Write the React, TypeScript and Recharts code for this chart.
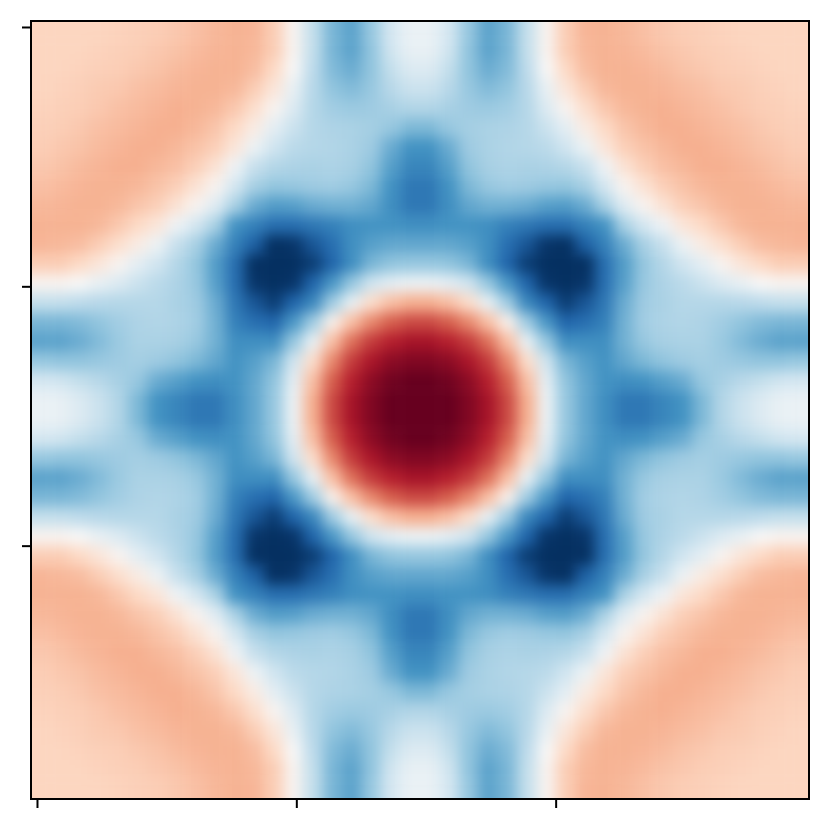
import React from "react";
import { ScatterChart, Scatter, XAxis, YAxis, ReferenceArea } from "recharts";

// Upper triangle of one quadrant of the (mirror-symmetric) field; row r starts at column r.
const upperRows: number[][] = [
  [.22,.22,.22,.22,.23,.24,.25,.27,.3,.33,.35,.34,.25,.03,-.24,-.46,-.54,-.38,-.18,-.07],
  [.22,.22,.23,.24,.25,.27,.29,.32,.34,.35,.33,.25,.03,-.24,-.46,-.54,-.4,-.2,-.08],
  [.23,.24,.25,.27,.29,.32,.34,.35,.35,.31,.2,0,-.26,-.44,-.5,-.4,-.24,-.14],
  [.26,.27,.3,.32,.34,.35,.35,.33,.25,.12,-.08,-.28,-.4,-.44,-.38,-.28,-.22],
  [.3,.32,.34,.36,.35,.33,.27,.17,.03,-.14,-.29,-.35,-.37,-.36,-.33,-.3],
  [.34,.36,.36,.33,.28,.2,.08,-.1,-.22,-.29,-.31,-.32,-.34,-.38,-.45],
  [.36,.33,.29,.24,.12,-.06,-.2,-.27,-.29,-.3,-.32,-.36,-.5,-.6],
  [.3,.24,.14,-.04,-.23,-.29,-.31,-.32,-.31,-.33,-.4,-.55,-.66],
  [.14,.03,-.18,-.33,-.39,-.38,-.36,-.35,-.38,-.45,-.6,-.72],
  [-.12,-.32,-.5,-.56,-.55,-.5,-.48,-.48,-.52,-.62,-.72],
  [-.6,-.68,-.76,-.76,-.72,-.68,-.62,-.6,-.6,-.62],
  [-.82,-1,-.98,-.86,-.76,-.62,-.55,-.52,-.52],
  [-1.03,-1.03,-.95,-.8,-.62,-.46,-.4,-.38],
  [-.98,-.8,-.58,-.38,-.2,-.1,-.06],
  [-.65,-.35,-.08,.18,.3,.36],
  [.05,.3,.48,.6,.66],
  [.55,.7,.78,.83],
  [.82,.9,.93],
  [.97,1.0],
  [1.05],
];

const xTicks = [0, 20, 40];
const yTicks = [0, 20, 40];
const domain: [number, number] = [-0.5, 59.5];
const stops = ["#053061","#2166ac","#4393c3","#92c5de","#d1e5f0","#f7f7f7","#fddbc7","#f4a582","#d6604d","#b2182b","#67001f"];

const QUARTER = 20;
const STEP = 1.5;
const PAD = 6;
const CELL_PX = 20;

const hex = (c: string) => [1, 3, 5].map((k) => parseInt(c.slice(k, k + 2), 16));
function colour(v: number) {
  const t = (Math.max(-1, Math.min(1, v)) + 1) * 5;
  const k = Math.min(9, Math.floor(t));
  const a = hex(stops[k]), b = hex(stops[k + 1]);
  const f = t - k;
  return `rgb(${a.map((p, n) => Math.round(p + (b[n] - p) * f)).join(",")})`;
}
function quarterValue(r: number, c: number) {
  const lo = Math.min(r, c), hi = Math.max(r, c);
  return upperRows[lo][hi - lo];
}
function fold(i: number) {
  const n = Math.max(0, Math.min(2 * QUARTER - 1, i));
  return n < QUARTER ? n : 2 * QUARTER - 1 - n;
}
const cells: { x: number; y: number; v: number }[] = [];
for (let r = -PAD; r < 2 * QUARTER + PAD; r++) {
  for (let c = -PAD; c < 2 * QUARTER + PAD; c++) {
    cells.push({ x: -0.5 + STEP * (c + 0.5), y: -0.5 + STEP * (r + 0.5), v: quarterValue(fold(r), fold(c)) });
  }
}

const Cell = (p: any) => (
  <rect x={p.cx - CELL_PX / 2} y={p.cy - CELL_PX / 2} width={CELL_PX} height={CELL_PX} fill={colour(p.payload.v)} />
);

const lineStyle = { stroke: "#000", strokeWidth: 2 };

export default function App() {
  return (
    <div style={{ position: "absolute", left: 0, top: 0, width: 830, height: 830 }}>
      <style>{`.heat { filter: blur(7px); }`}</style>
      <ScatterChart width={830} height={830} margin={{ top: 21, right: 21, bottom: 30, left: 30 }}>
        <Scatter data={cells} dataKey="v" className="heat" isAnimationActive={false} shape={Cell} zIndex={100} />
        <XAxis type="number" dataKey="x" domain={domain} allowDataOverflow ticks={xTicks} tickFormatter={() => ""} height={1} axisLine={lineStyle} tickLine={lineStyle} tickSize={9} interval={0} zIndex={900} />
        <YAxis type="number" dataKey="y" domain={domain} allowDataOverflow reversed ticks={yTicks} tickFormatter={() => ""} width={1} axisLine={lineStyle} tickLine={lineStyle} tickSize={9} interval={0} zIndex={900} />
        <ReferenceArea x1={domain[0]} x2={domain[1]} y1={domain[0]} y2={domain[1]} ifOverflow="visible" fill="none" fillOpacity={0} stroke="#000" strokeWidth={2} strokeOpacity={1} zIndex={1000} />
      </ScatterChart>
    </div>
  );
}
